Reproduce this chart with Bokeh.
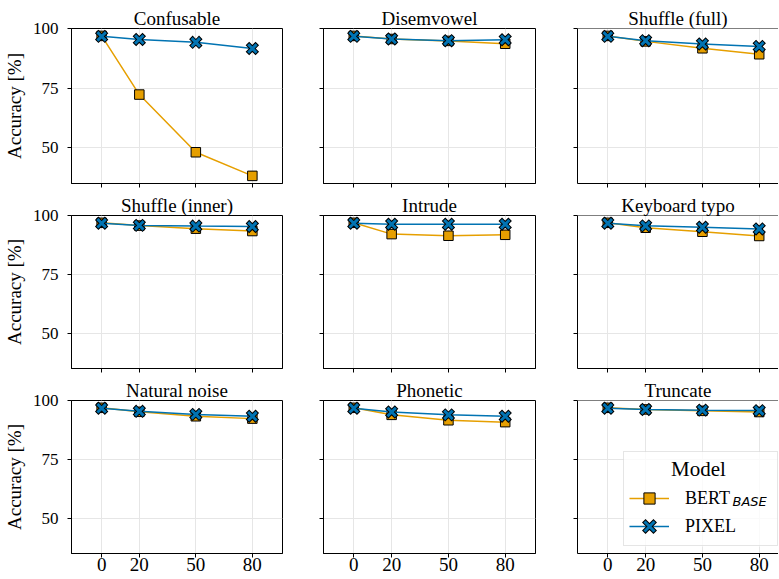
from bokeh.plotting import figure
from bokeh.layouts import gridplot
from bokeh.models import FixedTicker, Range1d, Legend, LegendItem, Label, Span, BoxAnnotation
from bokeh.embed import file_html
from bokeh.resources import INLINE

# ---------------- data ----------------
panels = ["Confusable", "Disemvowel", "Shuffle (full)",
          "Shuffle (inner)", "Intrude", "Keyboard typo",
          "Natural noise", "Phonetic", "Truncate"]
noise_levels = [0, 20, 50, 80]
x_ticks = [0, 20, 50, 80]
y_ticks = [50, 75, 100]

bert_base = [
    [96.9, 72.3, 48.1, 38.2],   # Confusable
    [96.9, 95.6, 94.8, 93.6],   # Disemvowel
    [96.9, 94.6, 91.7, 89.2],   # Shuffle (full)
    [96.9, 95.7, 94.4, 93.4],   # Shuffle (inner)
    [96.9, 92.1, 91.4, 91.8],   # Intrude
    [96.9, 94.8, 93.1, 91.3],   # Keyboard typo
    [96.9, 95.2, 93.3, 92.3],   # Natural noise
    [96.9, 93.9, 91.6, 90.8],   # Phonetic
    [96.9, 96.2, 95.6, 95.1],   # Truncate
]
pixel = [
    [96.7, 95.4, 94.2, 91.6],
    [96.7, 95.6, 94.9, 95.3],
    [96.7, 94.9, 93.5, 92.5],
    [96.7, 95.8, 95.5, 95.3],
    [96.7, 96.3, 96.3, 96.3],
    [96.7, 95.6, 95.0, 94.3],
    [96.7, 95.4, 94.1, 93.3],
    [96.7, 95.1, 93.9, 93.3],
    [96.7, 96.2, 95.9, 95.7],
]

# ---------------- style / layout ----------------
FONT = "'Liberation Serif', 'Times New Roman', serif"
ORANGE = "#E69F00"
BLUE = "#0173B2"
GRID = "#e6e6e6"

col_w = [302, 254, 222]
col_l = [70, 21, 21]
col_r = [20, 21, 0]
row_h = [192, 185, 201]
row_t = [28, 21, 22]
row_b = [9, 9, 25]
X0, X1 = -16, 96
FRAME_W = 212

grid = []
for r in range(3):
    row_figs = []
    for c in range(3):
        i = r * 3 + c
        fw = col_w[c] - col_l[c] - col_r[c]
        xend = X0 + (X1 - X0) * fw / FRAME_W
        p = figure(width=col_w[c], height=row_h[r],
                   x_range=Range1d(X0, xend), y_range=Range1d(35, 100),
                   min_border_left=col_l[c], min_border_right=col_r[c],
                   min_border_top=row_t[r], min_border_bottom=row_b[r],
                   output_backend="svg", toolbar_location=None,
                   background_fill_color="white", border_fill_color="white")
        p.title.text = panels[i]
        p.title.text_font = FONT
        p.title.text_font_size = "19px"
        p.title.text_font_style = "normal"
        p.title.align = "center"
        p.title.standoff = 0
        p.title.text_color = "black"

        if c < 2:
            p.outline_line_color = "black"
            p.outline_line_width = 1
        else:
            p.outline_line_color = None
            p.add_layout(Span(location=100, dimension="width",
                              line_color="black", line_width=1))

        for ax in (p.xaxis[0], p.yaxis[0]):
            ax.axis_line_color = "black"
            ax.axis_line_width = 1
            ax.major_tick_line_color = "black"
            ax.major_tick_out = 4
            ax.major_tick_in = 0
            ax.minor_tick_out = 0
            ax.minor_tick_in = 0
            ax.major_label_text_font = FONT
            ax.major_label_text_color = "black"
        p.xaxis.ticker = FixedTicker(ticks=x_ticks)
        p.yaxis.ticker = FixedTicker(ticks=y_ticks)

        if r == 2:
            p.xaxis.major_label_text_font_size = "19px"
            p.xaxis.major_label_standoff = 0
        else:
            p.xaxis.major_label_text_font_size = "0px"
            p.xaxis.major_label_text_color = None
            p.xaxis.major_label_standoff = 0
        if c == 0:
            p.yaxis.major_label_text_font_size = "17px"
            p.yaxis.major_label_standoff = 9
            p.yaxis.axis_label = "Accuracy [%]"
            p.yaxis.axis_label_text_font = FONT
            p.yaxis.axis_label_text_font_size = "19px"
            p.yaxis.axis_label_text_font_style = "normal"
            p.yaxis.axis_label_text_color = "black"
            p.yaxis.axis_label_standoff = 5
        else:
            p.yaxis.major_label_text_font_size = "0px"
            p.yaxis.major_label_text_color = None
            p.yaxis.major_label_standoff = 0

        p.xgrid.grid_line_color = GRID
        p.ygrid.grid_line_color = GRID
        p.xgrid.grid_line_width = 1
        p.ygrid.grid_line_width = 1

        if i == 8:
            # white panel behind the legend (legend itself is transparent)
            p.add_layout(BoxAnnotation(left=46, right=201, bottom=7, top=102,
                                       left_units="screen", right_units="screen",
                                       bottom_units="screen", top_units="screen",
                                       fill_color="white", fill_alpha=0.8,
                                       line_color=None, level="underlay"))

        lb = p.line(noise_levels, bert_base[i], line_color=ORANGE, line_width=1.5)
        sb = p.scatter(noise_levels, bert_base[i], marker="square", size=9.5,
                       fill_color=ORANGE, line_color="black", line_width=1)
        lp = p.line(noise_levels, pixel[i], line_color=BLUE, line_width=1.5)
        kx = p.scatter(noise_levels, pixel[i], marker="x", size=9,
                       line_color="black", line_width=5, line_cap="square")
        bx = p.scatter(noise_levels, pixel[i], marker="x", size=9,
                       line_color=BLUE, line_width=3, line_cap="square")

        if i == 8:
            legend = Legend(items=[LegendItem(label="BERT", renderers=[lb, sb]),
                                   LegendItem(label="PIXEL", renderers=[lp, kx, bx])],
                            location=(46, 7))
            legend.title = "\u2003\u2003Model"
            legend.title_text_font = FONT
            legend.title_text_font_size = "21px"
            legend.title_text_font_style = "normal"
            legend.title_text_color = "black"
            legend.title_standoff = 2
            legend.label_text_font = FONT
            legend.label_text_font_size = "18px"
            legend.label_text_color = "black"
            legend.glyph_width = 40
            legend.glyph_height = 28
            legend.label_height = 28
            legend.label_standoff = 16
            legend.label_width = 87
            legend.padding = 5
            legend.spacing = 0
            legend.margin = 0
            legend.border_line_color = "#cccccc"
            legend.border_line_width = 1
            legend.background_fill_color = None
            p.add_layout(legend)
            p.add_layout(Label(x=155, y=52.5, x_units="screen", y_units="screen",
                               text="BASE", text_font="DejaVu Sans",
                               text_font_style="italic", text_font_size="13px",
                               text_baseline="alphabetic", text_color="black"))
        row_figs.append(p)
    grid.append(row_figs)

layout = gridplot(grid, toolbar_location=None)
open("out.html", "w").write(file_html(layout, INLINE))
